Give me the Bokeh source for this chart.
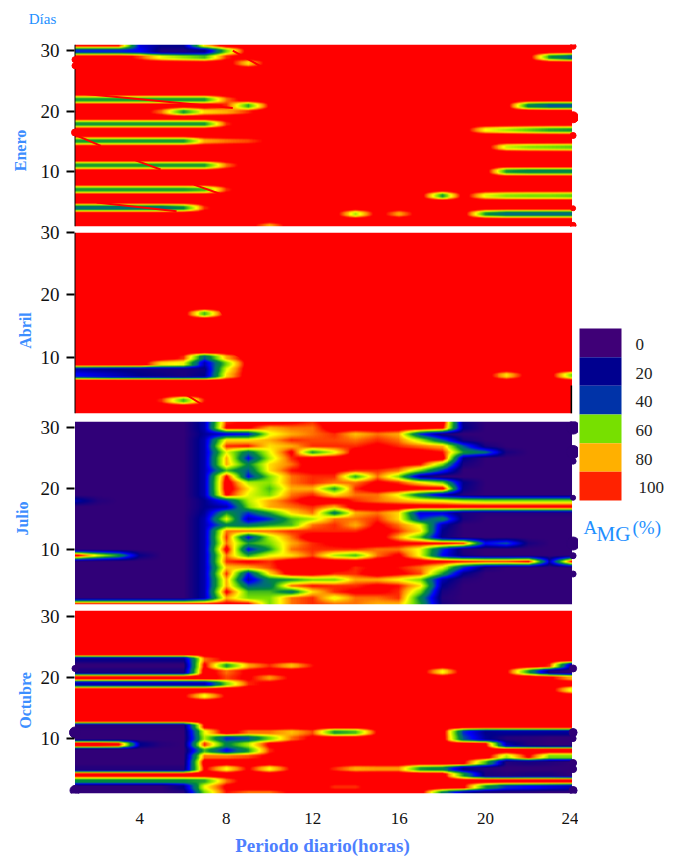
import numpy as np
from bokeh.plotting import figure
from bokeh.layouts import column, row
from bokeh.models import Range1d, FixedTicker, LinearColorMapper
from bokeh.core.properties import value
from bokeh.embed import file_html
from bokeh.resources import INLINE

hours = list(range(1, 25))
x_ticks = [4, 8, 12, 16, 20, 24]
y_ticks = [10, 20, 30]
legend_labels = ["0", "20", "40", "60", "80", "100"]
legend_colors = ["#3F0077", "#00008F", "#0033A8", "#77E000", "#FFB000", "#FF2200"]
months = ["Enero", "Abril", "Julio", "Octubre"]

# A_MG (%) by hour (columns 1..24), days listed from last to first
enero = [
[92,92,92,20,10,10,75,100,100,100,100,100,100,100,100,100,100,100,100,100,100,100,100,100],
[30,30,30,25,5,5,10,60,100,100,100,100,100,100,100,100,100,100,100,100,100,100,100,100],
[100,100,100,88,70,62,55,90,100,100,100,100,100,100,100,100,100,100,100,100,100,100,50,35],
[100,100,100,100,100,100,100,100,75,100,100,100,100,100,100,100,100,100,100,100,100,100,100,100],
[100,100,100,100,100,100,100,100,100,100,100,100,100,100,100,100,100,100,100,100,100,100,100,100],
[100,100,100,100,100,100,100,100,100,100,100,100,100,100,100,100,100,100,100,100,100,100,100,100],
[100,100,100,100,100,100,100,100,100,100,100,100,100,100,100,100,100,100,100,100,100,100,100,100],
[100,100,100,100,100,100,100,100,100,100,100,100,100,100,100,100,100,100,100,100,100,100,100,100],
[100,100,100,100,100,100,100,100,100,100,100,100,100,100,100,100,100,100,100,100,100,100,100,100],
[50,50,50,50,50,50,50,85,100,100,100,100,100,100,100,100,100,100,100,100,100,100,100,100],
[100,100,100,100,100,100,100,90,52,95,100,100,100,100,100,100,100,100,100,100,100,45,35,35],
[100,100,100,100,85,50,75,80,90,100,100,100,100,100,100,100,100,100,100,100,100,100,100,100],
[100,100,100,100,100,100,100,100,100,100,100,100,100,100,100,100,100,100,100,100,100,100,100,100],
[50,50,50,50,50,50,50,90,100,100,100,100,100,100,100,100,100,100,100,100,100,100,100,100],
[100,100,100,100,100,100,100,100,100,100,100,100,100,100,100,100,100,100,100,72,65,58,52,50],
[100,100,100,100,100,100,100,100,100,100,100,100,100,100,100,100,100,100,100,100,100,100,100,100],
[50,50,50,50,50,50,80,85,88,95,100,100,100,100,100,100,100,100,100,100,100,100,100,100],
[100,100,100,100,100,100,100,100,100,100,100,100,100,100,100,100,100,100,100,100,68,62,60,58],
[100,100,100,100,100,100,100,100,100,100,100,100,100,100,100,100,100,100,100,100,100,100,100,100],
[100,100,100,100,100,100,100,100,100,100,100,100,100,100,100,100,100,100,100,100,100,100,100,100],
[50,50,50,50,50,50,50,85,100,100,100,100,100,100,100,100,100,100,100,100,100,100,100,100],
[100,100,100,100,100,100,100,100,100,100,100,100,100,100,100,100,100,100,100,100,50,45,45,45],
[100,100,100,100,100,100,100,100,100,100,100,100,100,100,100,100,100,100,100,100,100,100,100,100],
[100,100,100,100,100,100,100,100,100,100,100,100,100,100,100,100,100,100,100,100,100,100,100,100],
[50,50,50,50,50,50,55,90,100,100,100,100,100,100,100,100,100,100,100,100,100,100,100,100],
[100,100,100,100,100,100,100,100,100,100,100,100,100,100,100,100,100,50,100,70,62,60,60,58],
[100,100,100,100,100,100,100,100,100,100,100,100,100,100,100,100,100,100,100,100,100,100,100,100],
[38,38,38,38,38,48,90,100,100,100,100,100,100,100,100,100,100,100,100,100,100,100,100,100],
[100,100,100,100,100,100,100,100,100,100,100,100,100,65,100,80,100,100,100,50,38,38,38,38],
[100,100,100,100,100,100,100,100,100,100,100,100,100,100,100,100,100,100,100,100,100,100,100,100],
[100,100,100,100,100,100,100,100,100,80,100,100,100,100,100,100,100,100,100,100,100,100,100,100],
]

abril = [
[100,100,100,100,100,100,100,100,100,100,100,100,100,100,100,100,100,100,100,100,100,100,100,100],
[100,100,100,100,100,100,100,100,100,100,100,100,100,100,100,100,100,100,100,100,100,100,100,100],
[100,100,100,100,100,100,100,100,100,100,100,100,100,100,100,100,100,100,100,100,100,100,100,100],
[100,100,100,100,100,100,100,100,100,100,100,100,100,100,100,100,100,100,100,100,100,100,100,100],
[100,100,100,100,100,100,100,100,100,100,100,100,100,100,100,100,100,100,100,100,100,100,100,100],
[100,100,100,100,100,100,100,100,100,100,100,100,100,100,100,100,100,100,100,100,100,100,100,100],
[100,100,100,100,100,100,100,100,100,100,100,100,100,100,100,100,100,100,100,100,100,100,100,100],
[100,100,100,100,100,100,100,100,100,100,100,100,100,100,100,100,100,100,100,100,100,100,100,100],
[100,100,100,100,100,100,100,100,100,100,100,100,100,100,100,100,100,100,100,100,100,100,100,100],
[100,100,100,100,100,100,100,100,100,100,100,100,100,100,100,100,100,100,100,100,100,100,100,100],
[100,100,100,100,100,100,100,100,100,100,100,100,100,100,100,100,100,100,100,100,100,100,100,100],
[100,100,100,100,100,100,100,100,100,100,100,100,100,100,100,100,100,100,100,100,100,100,100,100],
[100,100,100,100,100,100,100,100,100,100,100,100,100,100,100,100,100,100,100,100,100,100,100,100],
[100,100,100,100,100,100,55,100,100,100,100,100,100,100,100,100,100,100,100,100,100,100,100,100],
[100,100,100,100,100,100,100,100,100,100,100,100,100,100,100,100,100,100,100,100,100,100,100,100],
[100,100,100,100,100,100,100,100,100,100,100,100,100,100,100,100,100,100,100,100,100,100,100,100],
[100,100,100,100,100,100,100,100,100,100,100,100,100,100,100,100,100,100,100,100,100,100,100,100],
[100,100,100,100,100,100,100,100,100,100,100,100,100,100,100,100,100,100,100,100,100,100,100,100],
[100,100,100,100,100,100,100,100,100,100,100,100,100,100,100,100,100,100,100,100,100,100,100,100],
[100,100,100,100,100,100,100,100,100,100,100,100,100,100,100,100,100,100,100,100,100,100,100,100],
[100,100,100,100,100,90,35,80,100,100,100,100,100,100,100,100,100,100,100,100,100,100,100,100],
[100,100,100,100,75,70,15,60,100,100,100,100,100,100,100,100,100,100,100,100,100,100,100,100],
[15,12,10,8,6,5,8,70,100,100,100,100,100,100,100,100,100,100,100,100,100,100,100,100],
[25,20,15,10,8,5,10,75,100,100,100,100,100,100,100,100,100,100,100,100,75,100,100,60],
[100,100,100,100,100,100,100,100,100,100,100,100,100,100,100,100,100,100,100,100,100,100,100,100],
[100,100,100,100,100,100,100,100,100,100,100,100,100,100,100,100,100,100,100,100,100,100,100,100],
[100,100,100,100,100,100,100,100,100,100,100,100,100,100,100,100,100,100,100,100,100,100,100,100],
[100,100,100,100,90,55,92,100,100,100,100,100,100,100,100,100,100,100,100,100,100,100,100,100],
[100,100,100,100,100,100,100,100,100,100,100,100,100,100,100,100,100,100,100,100,100,100,100,100],
[100,100,100,100,100,100,100,100,100,100,100,100,100,100,100,100,100,100,100,100,100,100,100,100],
]

julio = [
[0,0,0,0,0,0,15,90,95,100,95,90,100,100,100,100,100,100,8,0,0,0,0,0],
[0,0,0,0,0,0,15,95,95,80,85,85,100,100,100,100,100,95,10,0,0,0,0,0],
[0,0,0,0,0,0,12,20,25,70,80,85,90,78,85,80,30,5,0,0,0,0,0,0],
[0,0,0,0,0,0,15,75,75,80,90,88,88,85,90,85,65,35,5,0,0,0,0,0],
[0,0,0,0,0,0,15,90,92,75,80,90,90,90,95,90,85,80,35,5,0,0,0,0],
[0,0,0,0,0,0,15,70,40,70,95,50,70,100,100,100,98,92,50,40,5,0,0,0],
[0,0,0,0,0,0,15,80,25,65,90,100,100,100,100,100,100,100,10,0,0,0,0,0],
[0,0,0,0,0,0,15,80,45,75,85,100,100,100,100,95,92,60,5,0,0,0,0,0],
[0,0,0,0,0,0,15,55,35,75,92,95,95,90,90,85,60,30,0,0,0,0,0,0],
[0,0,0,0,0,0,15,95,25,60,85,90,90,52,85,60,10,0,0,0,0,0,0,0],
[0,0,0,0,0,0,15,100,65,62,85,90,85,85,95,90,75,60,10,0,0,0,0,0],
[0,0,0,0,0,0,15,100,75,55,80,80,50,90,100,100,98,98,8,0,0,0,0,0],
[0,0,0,0,0,0,15,95,70,60,85,90,75,85,85,70,40,15,3,0,0,0,0,0],
[15,3,0,0,0,0,10,30,65,80,90,100,100,90,85,80,75,72,65,62,62,62,62,62],
[0,0,0,0,0,0,10,15,60,80,85,90,80,100,100,100,100,100,100,100,100,100,100,100],
[0,0,0,0,0,0,12,50,30,50,75,85,42,80,85,75,20,20,5,2,2,2,2,2],
[0,0,0,0,0,0,15,70,15,30,55,65,85,85,90,75,30,45,5,0,0,0,0,0],
[0,0,0,0,0,0,15,45,40,50,55,85,90,80,95,85,70,15,0,0,0,0,0,0],
[0,0,0,0,0,0,15,85,85,85,90,90,90,90,98,90,75,10,0,0,0,0,0,0],
[0,0,0,0,0,0,15,90,25,65,85,100,100,100,100,80,55,8,0,0,0,0,0,0],
[0,0,0,0,0,0,15,85,50,60,80,90,95,100,100,95,95,95,90,25,35,5,0,0],
[0,0,0,0,0,0,15,98,25,50,85,90,90,90,85,85,70,30,3,0,0,0,0,0],
[100,70,50,8,0,0,15,85,50,70,75,88,65,55,85,95,70,25,5,0,0,0,0,0],
[0,0,0,0,0,0,15,90,95,90,100,100,100,100,100,100,98,95,92,90,90,95,15,95],
[0,0,0,0,0,0,15,78,80,88,100,100,100,90,95,92,85,70,30,5,0,0,0,0],
[0,0,0,0,0,0,15,90,25,75,100,100,90,90,100,95,88,50,10,0,0,0,0,0],
[0,0,0,0,0,0,15,80,15,45,50,60,60,80,80,72,60,15,2,0,0,0,0,0],
[0,0,0,0,0,0,15,80,35,40,85,92,90,90,95,92,75,10,0,0,0,0,0,0],
[0,0,0,0,0,0,15,95,55,55,40,75,90,95,95,90,60,5,0,0,0,0,0,0],
[0,0,0,0,0,0,15,80,60,60,85,90,70,85,85,90,45,3,0,0,0,0,0,0],
[95,95,95,95,95,95,95,95,95,60,85,90,85,85,80,80,50,5,0,0,0,0,0,0],
]

octubre = [
[100,100,100,100,100,100,100,100,100,100,100,100,100,100,100,100,100,100,100,100,100,100,100,100],
[100,100,100,100,100,100,100,100,100,100,100,100,100,100,100,100,100,100,100,100,100,100,100,100],
[100,100,100,100,100,100,100,100,100,100,100,100,100,100,100,100,100,100,100,100,100,100,100,100],
[100,100,100,100,100,100,100,100,100,100,100,100,100,100,100,100,100,100,100,100,100,100,100,100],
[100,100,100,100,100,100,100,100,100,100,100,100,100,100,100,100,100,100,100,100,100,100,100,100],
[100,100,100,100,100,100,100,100,100,100,100,100,100,100,100,100,100,100,100,100,100,100,100,100],
[100,100,100,100,100,100,100,100,100,100,100,100,100,100,100,100,100,100,100,100,100,100,100,100],
[100,100,100,100,100,100,100,100,100,100,100,100,100,100,100,100,100,100,100,100,100,100,100,100],
[8,8,8,8,8,8,85,95,100,100,100,100,100,100,100,100,100,100,100,100,100,100,100,100],
[0,0,0,0,0,0,95,50,80,90,78,92,100,100,100,100,100,100,100,100,100,100,90,10],
[5,5,5,5,5,5,100,85,95,100,100,100,100,100,100,100,100,72,100,100,95,50,5,0],
[98,98,98,98,98,98,100,88,95,82,95,100,100,100,100,100,100,100,100,100,100,100,95,80],
[15,15,15,15,15,15,15,60,90,95,100,100,100,100,100,100,100,100,100,100,100,100,100,100],
[100,100,100,100,100,100,100,100,100,100,100,100,100,100,100,100,100,100,100,100,100,100,100,70],
[100,100,100,100,100,95,72,95,100,100,100,100,100,100,100,100,100,100,100,100,100,100,100,100],
[100,100,100,100,100,100,100,100,100,100,100,100,100,100,100,100,100,100,100,100,100,100,100,100],
[100,100,100,100,100,100,100,100,100,100,100,100,100,100,100,100,100,100,100,100,100,100,100,100],
[100,100,100,100,100,100,100,100,100,100,100,100,100,100,100,100,100,100,100,100,100,100,100,100],
[100,100,100,100,100,100,100,100,100,100,100,100,100,100,100,100,100,100,100,100,100,100,100,100],
[2,2,2,2,2,2,95,95,100,100,100,100,100,100,100,100,100,100,100,100,100,100,100,100],
[0,0,0,0,0,0,70,100,85,85,78,88,50,55,95,100,100,100,30,10,12,12,12,12],
[0,0,0,0,0,0,65,30,35,60,85,95,100,100,100,100,100,100,35,12,3,2,0,0],
[100,100,95,10,2,0,90,45,65,95,100,100,100,100,100,100,100,100,100,95,15,3,0,0],
[0,0,0,0,0,0,55,25,50,90,100,100,100,100,100,100,100,100,100,100,100,100,100,100],
[0,0,0,0,0,0,85,85,88,95,100,100,100,100,100,100,100,100,100,100,65,95,60,60],
[0,0,0,0,0,0,100,100,100,100,100,100,100,100,100,100,100,100,95,55,3,5,3,0],
[3,3,3,3,3,3,95,72,95,72,95,100,90,80,82,82,50,45,10,3,0,0,0,0],
[100,100,100,100,100,100,100,100,100,100,100,100,100,100,100,100,100,100,50,5,3,5,5,0],
[48,48,48,48,48,48,52,85,100,100,100,100,100,100,100,100,100,100,95,100,100,100,100,100],
[0,0,0,0,0,10,70,95,100,100,100,100,90,90,100,100,100,100,95,50,30,25,20,15],
[0,0,0,0,0,3,60,92,85,85,95,100,100,100,100,100,100,45,15,5,3,2,0,0],
]

grids = [enero, abril, julio, octubre]

# thin red streaks crossing the bands: (hour0, day0, hour1, day1)
streaks_enero = [(1.1,22.96,8.3,20.55),(1.07,16.0,2.2,14.3),(3.8,11.9,4.96,10.4),(6.5,7.9,7.7,6.4),(2.0,4.95,5.7,3.5),(8.3,30.0,9.7,27.2)]
streaks_abril = [(8.05,11.2,9.03,9.4),(6.1,4.1,6.9,2.4),(7.65,17.9,7.97,16.3)]
streaks = [streaks_enero, streaks_abril, [], []]

# blobs on the panel edges: days
left_blob_days = [[28.5,27.5,16.5], [], [], [1.5,11,21.5]]
right_blob_days = [[30.7,19,16,4,1.2], [], [30,26,24.5,18.5,11,9,6], [21.5,11,10,6,5,1.5]]
blob_colors = ["#FF0000", "#FF0000", "#300078", "#300078"]
blob_sizes = [[6,6,7],[],[],[10,11,6]]
right_blob_sizes = [[6,11,6,5,6],[],[13,13,6,5,13,6,6],[7,8,6,7,7,8]]

stops_v = [0, 10, 25, 38, 48, 60, 72, 83, 93, 100]
stops_c = ["#300078", "#00008B", "#0000FF", "#006E78", "#008B3C", "#78E000", "#FFFF00", "#FF9000", "#FF0000", "#FF0000"]
def hex2rgb(c):
    return [int(c[i:i+2], 16) for i in (1, 3, 5)]
rgb = np.array([hex2rgb(c) for c in stops_c], float)
vv = np.linspace(0, 100, 256)
palette = ["#%02X%02X%02X" % tuple(int(round(np.interp(v, stops_v, rgb[:, k]))) for k in range(3)) for v in vv]
mapper = LinearColorMapper(palette=palette, low=0, high=100)

SERIF = "Liberation Serif"
BLUE = "#1E90FF"

def resample(grid, flat):
    """Resampling of the hour/day grid to screen resolution: linear along hours, steeper between days."""
    z = np.array(grid, float)[::-1]
    ny, nx = z.shape
    xs = np.linspace(0, nx - 1, 507)
    ys = np.linspace(0, ny - 1, 183)
    x0 = np.minimum(xs.astype(int), nx - 2); fx = xs - x0
    y0 = np.minimum(ys.astype(int), ny - 2); fy = np.clip((ys - y0 - flat) / (1 - 2 * flat), 0, 1)
    a = z[np.ix_(y0, x0)] * (1 - fx) + z[np.ix_(y0, x0 + 1)] * fx
    b = z[np.ix_(y0 + 1, x0)] * (1 - fx) + z[np.ix_(y0 + 1, x0 + 1)] * fx
    return (a * (1 - fy)[:, None] + b * fy[:, None]).astype("float32")

# layout in pixels
heights = [229, 198, 190, 257]
tops = [44, 13, 4, 3]
bottoms = [3, 4, 3, 71]
margins = [(0, 0, 0, 0), (-10, 0, 0, 0), (0, 0, 0, 0), (0, 0, -8, 0)]
flats = [0.2, 0.2, 0.05, 0.2]
X0, X1 = 0.6065, 24.30

figs = []
for i, grid in enumerate(grids):
    n = len(grid)
    p = figure(width=578, height=heights[i], output_backend="svg", toolbar_location=None,
               x_range=Range1d(X0, X1), y_range=Range1d(1, n),
               min_border_left=66, min_border_right=0, min_border_top=tops[i], min_border_bottom=bottoms[i],
               x_axis_location="below" if i == 3 else None, y_axis_location="left",
               background_fill_color="white", border_fill_color=None, outline_line_color=None)
    p.margin = margins[i]
    p.grid.visible = False
    p.image(image=[resample(grid, flats[i])], x=1, y=1, dw=23, dh=n - 1, color_mapper=mapper)
    if streaks[i]:
        s = np.array(streaks[i])
        p.segment(s[:, 0], s[:, 1], s[:, 2], s[:, 3], line_color="#FF0000", line_width=2)
    if i < 2:
        p.segment([1], [1], [1], [n], line_color="black", line_width=1)
    if left_blob_days[i]:
        p.scatter([1] * len(left_blob_days[i]), left_blob_days[i], size=blob_sizes[i], color=blob_colors[i])
    if right_blob_days[i]:
        p.scatter([24.05] * len(right_blob_days[i]), right_blob_days[i], size=right_blob_sizes[i], color=blob_colors[i])
    ax = p.yaxis[0]
    ax.ticker = FixedTicker(ticks=y_ticks)
    ax.major_label_text_font = SERIF
    ax.major_label_text_font_size = "19px"
    ax.major_label_text_color = "#111111"
    ax.major_tick_line_color = "black"
    ax.major_tick_line_width = 2
    ax.major_tick_in = 8
    ax.major_tick_out = 0
    ax.minor_tick_line_color = None
    ax.major_label_standoff = 7
    ax.axis_line_color = None
    if i == 1:
        p.segment([23.97], [1], [23.97], [5.5], line_color="black", line_width=1.5)
    if i == 3:
        xa = p.xaxis[0]
        xa.ticker = FixedTicker(ticks=x_ticks)
        xa.axis_line_color = None
        xa.major_tick_line_color = None
        xa.minor_tick_line_color = None
        xa.major_label_text_font = SERIF
        xa.major_label_text_font_size = "17px"
        xa.major_label_text_color = "#111111"
        xa.major_label_standoff = 13
        xa.axis_label = "Periodo diario(horas)"
        xa.axis_label_text_font = SERIF
        xa.axis_label_text_font_size = "19px"
        xa.axis_label_text_font_style = "bold"
        xa.axis_label_text_color = "#4D7FFF"
        xa.axis_label_standoff = 8
    figs.append(p)

# month names and "Días", in a strip under the panels' left border
strip = figure(width=66, height=856, output_backend="svg", toolbar_location=None,
               x_range=Range1d(0, 66), y_range=Range1d(856, 0), min_border=0,
               x_axis_location=None, y_axis_location=None,
               background_fill_color=None, border_fill_color=None, outline_line_color=None)
strip.grid.visible = False
strip.text(x=[20, 25, 22, 25], y=[150, 330, 518, 700], text=months, angle=np.pi / 2,
           text_font=value(SERIF), text_font_size="16px", text_font_style="bold", text_color="#3D8EFF",
           text_align="center", text_baseline="middle")
strip.text(x=[42], y=[18], text=["Días"], text_font=value(SERIF), text_font_size="15px", text_color=BLUE,
           text_align="center", text_baseline="middle")

# legend
cell = 28.67
leg = figure(width=89, height=856, output_backend="svg", toolbar_location=None,
             x_range=Range1d(0, 89), y_range=Range1d((856 - 328) / cell, (0 - 328) / cell),
             min_border=0, x_axis_location=None, y_axis_location=None,
             background_fill_color=None, border_fill_color=None, outline_line_color=None)
leg.grid.visible = False
idx = np.arange(len(legend_labels))
leg.quad(left=1, right=43, top=idx, bottom=idx + 1, fill_color=legend_colors, line_color=None)
leg.text(x=[57, 57, 57, 57, 57, 60], y=idx + 0.56, text=legend_labels, text_font=value(SERIF), text_font_size="17px",
         text_color="#222222", text_align="left", text_baseline="middle")
leg.text(x=[5], y=[6.95], text=["A"], text_font=value(SERIF), text_font_size="19px", text_color=BLUE,
         text_align="left", text_baseline="middle")
leg.text(x=[18], y=[7.17], text=["MG"], text_font=value(SERIF), text_font_size="21px", text_color=BLUE,
         text_align="left", text_baseline="middle")
leg.text(x=[54], y=[6.95], text=["(%)"], text_font=value(SERIF), text_font_size="19px", text_color=BLUE,
         text_align="left", text_baseline="middle")

panels = column(*figs, spacing=0, margin=(0, 0, 0, -66))
layout = row(strip, panels, leg, spacing=0)
open("out.html", "w").write(file_html(layout, INLINE))
